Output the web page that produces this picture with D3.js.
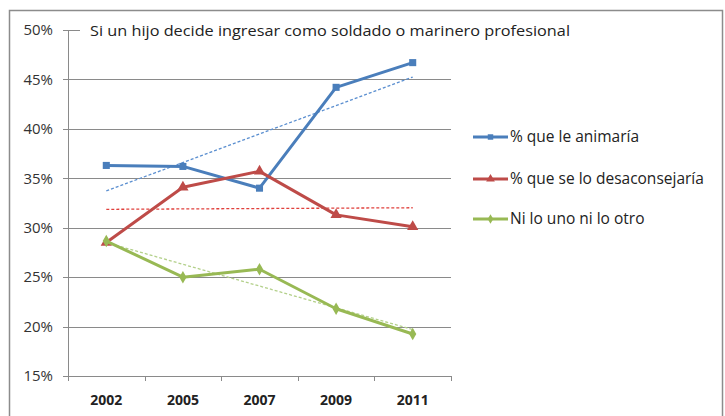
<!DOCTYPE html>
<html>
<head>
<meta charset="utf-8">
<script src="https://cdn.jsdelivr.net/npm/d3@7"></script>
<style>
  body { margin: 0; background: #fff; }
  svg { display: block; font-family: "Open Sans", "Liberation Sans", sans-serif; }
</style>
</head>
<body>
<svg width="725" height="416"></svg>
<script>
var years = ["2002", "2005", "2007", "2009", "2011"];
var animaria = [36.3, 36.2, 34.0, 44.2, 46.7];
var desaconsejaria = [28.5, 34.1, 35.7, 31.3, 30.1];
var niUnoNiOtro = [28.65, 25.0, 25.8, 21.8, 19.25];
var yTicks = [15, 20, 25, 30, 35, 40, 45, 50];
var seriesNames = ["% que le animaría", "% que se lo desaconsejaría", "Ni lo uno ni lo otro"];

var svg = d3.select("svg");

var series = [
  { name: seriesNames[0], values: animaria, color: "#4a7ebb", trend: "#5b8fd0", marker: d3.symbolSquare, size: 50 },
  { name: seriesNames[1], values: desaconsejaria, color: "#be4b48", trend: "#e0403c", marker: d3.symbolTriangle, size: 55 },
  { name: seriesNames[2], values: niUnoNiOtro, color: "#98b954", trend: "#b3d08a", marker: d3.symbolDiamond, size: 45 }
];

// outer frame
svg.append("rect")
    .attr("x", 9.5).attr("y", 10.5)
    .attr("width", 713).attr("height", 420)
    .attr("fill", "none")
    .attr("stroke", "#8c8c8c")
    .attr("stroke-width", 1.5);

var x = d3.scaleBand().domain(years).range([68, 451]);
var y = d3.scaleLinear().domain([15, 50]).range([376, 30]);

// gridlines
svg.append("g")
  .selectAll("line")
  .data(yTicks)
  .enter().append("line")
    .attr("x1", 63).attr("x2", 451)
    .attr("y1", function(d) { return Math.round(y(d)) + 0.5; })
    .attr("y2", function(d) { return Math.round(y(d)) + 0.5; })
    .attr("stroke", "#8a8a8a")
    .attr("stroke-width", 1);

// y axis line
svg.append("line")
    .attr("x1", 68.5).attr("x2", 68.5)
    .attr("y1", y(50)).attr("y2", y(15))
    .attr("stroke", "#8a8a8a");

// x axis ticks at band edges
var edges = years.map(function(d) { return x(d); }).concat([x.range()[1]]);
svg.append("g")
  .selectAll("line")
  .data(edges)
  .enter().append("line")
    .attr("x1", function(d) { return Math.round(d) + 0.5; })
    .attr("x2", function(d) { return Math.round(d) + 0.5; })
    .attr("y1", y(15)).attr("y2", y(15) + 5)
    .attr("stroke", "#8a8a8a");

// y tick labels
svg.append("g")
  .selectAll("text")
  .data(yTicks)
  .enter().append("text")
    .attr("x", 53)
    .attr("y", function(d) { return y(d); })
    .attr("dy", "0.35em")
    .attr("text-anchor", "end")
    .attr("fill", "#333")
    .style("font-size", "15px")
    .text(function(d) { return d + "%"; });

// x tick labels
svg.append("g")
  .selectAll("text")
  .data(years)
  .enter().append("text")
    .attr("x", function(d) { return x(d) + x.bandwidth() / 2; })
    .attr("y", 400)
    .attr("dy", "0.35em")
    .attr("text-anchor", "middle")
    .attr("fill", "#222")
    .style("font-size", "14px")
    .style("font-weight", "bold")
    .text(function(d) { return d; });

// title (with white box covering the 50% gridline, like the original)
svg.append("rect")
    .attr("x", 80).attr("y", 20)
    .attr("width", 500).attr("height", 22)
    .attr("fill", "#fff");
svg.append("text")
    .attr("x", 90).attr("y", 31)
    .attr("dy", "0.35em")
    .attr("fill", "#222")
    .attr("textLength", 480)
    .attr("lengthAdjust", "spacingAndGlyphs")
    .style("font-size", "15px")
    .text("Si un hijo decide ingresar como soldado o marinero profesional");

var cx = function(i) { return x(years[i]) + x.bandwidth() / 2; };

// linear trendlines (least squares over category index)
function fit(vals) {
  var n = vals.length, xs = d3.range(1, n + 1);
  var mx = d3.mean(xs), my = d3.mean(vals);
  var num = d3.sum(xs, function(xi, i) { return (xi - mx) * (vals[i] - my); });
  var den = d3.sum(xs, function(xi) { return (xi - mx) * (xi - mx); });
  var b = num / den, a = my - b * mx;
  return [a + b * 1, a + b * n];
}

series.forEach(function(s) {
  var t = fit(s.values);
  svg.append("line")
      .attr("x1", cx(0)).attr("x2", cx(s.values.length - 1))
      .attr("y1", y(t[0])).attr("y2", y(t[1]))
      .attr("stroke", s.trend)
      .attr("stroke-width", 1.3)
      .attr("stroke-dasharray", "3,2");
});

var line = d3.line()
    .x(function(d, i) { return cx(i); })
    .y(function(d) { return y(d); });

series.forEach(function(s) {
  svg.append("path")
      .datum(s.values)
      .attr("d", line)
      .attr("fill", "none")
      .attr("stroke", s.color)
      .attr("stroke-width", 3)
      .attr("stroke-linejoin", "round");

  svg.append("g")
    .selectAll("path")
    .data(s.values)
    .enter().append("path")
      .attr("transform", function(d, i) { return "translate(" + cx(i) + "," + y(d) + ")"; })
      .attr("d", d3.symbol().type(s.marker).size(s.size))
      .attr("fill", s.color);
});

// legend
var legend = svg.append("g")
  .selectAll("g")
  .data(series)
  .enter().append("g")
    .attr("transform", function(d, i) { return "translate(473," + [137, 179, 219][i] + ")"; });

legend.append("line")
    .attr("x1", 0).attr("x2", 35)
    .attr("stroke", function(d) { return d.color; })
    .attr("stroke-width", 3);

legend.append("path")
    .attr("transform", "translate(17.5,0)")
    .attr("d", function(d) { return d3.symbol().type(d.marker).size(d.size * 0.6)(); })
    .attr("fill", function(d) { return d.color; });

legend.append("text")
    .attr("x", 37)
    .attr("dy", "0.35em")
    .attr("fill", "#222")
    .style("font-size", "15.5px")
    .text(function(d) { return d.name; });
</script>
</body>
</html>
